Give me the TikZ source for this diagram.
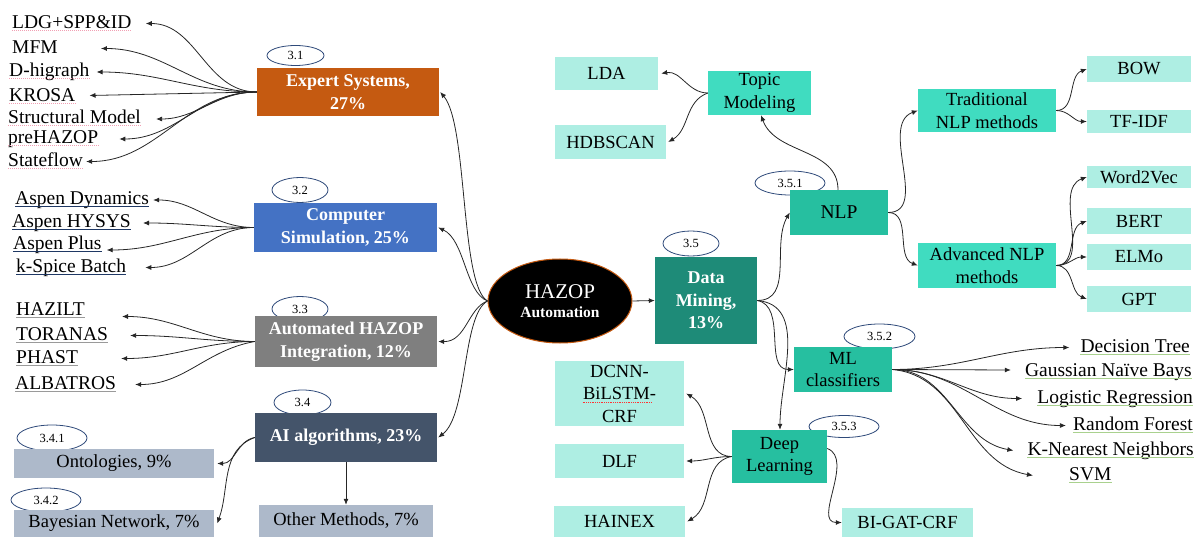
\documentclass[tikz,border=0pt]{standalone}
\usepackage{fontspec}
\setmainfont{Liberation Serif}
\newfontfamily\figfont{Liberation Serif}
\usepackage{tikz}
\usetikzlibrary{arrows.meta,shapes}
\usetikzlibrary{positioning}

\definecolor{catOrange}{HTML}{C55A11}
\definecolor{catBlue}{HTML}{4472C4}
\definecolor{catGray}{HTML}{7F7F7F}
\definecolor{catSlate}{HTML}{44546A}
\definecolor{subSlate}{HTML}{ADB9CA}
\definecolor{dmTeal}{HTML}{1E8B78}
\definecolor{midTeal}{HTML}{26BFA0}
\definecolor{brightTeal}{HTML}{40DCC0}
\definecolor{paleTeal}{HTML}{AEEEE3}
\definecolor{tagNavy}{HTML}{2F4A7A}
\definecolor{spellPink}{HTML}{F2A0B4}
\definecolor{linkNavy}{HTML}{1F3864}
\definecolor{lineGray}{HTML}{9A9A9A}
\definecolor{lineGreen}{HTML}{A9D18E}

\tikzset{
  conn/.style={draw=black!85, line width=0.8pt, -{Latex[length=6pt,width=5pt]}},
  catbox/.style={inner sep=0pt, align=center, text=white, font=\figfont\bfseries\fontsize{18}{22.5}\selectfont},
  subbox/.style={inner sep=0pt, align=center, text=black, font=\figfont\fontsize{18.5}{22.5}\selectfont},
  tag/.style={ellipse, draw=tagNavy, fill=white, line width=0.8pt, inner sep=0pt, font=\figfont\fontsize{12.5}{14}\selectfont},
  item/.style={inner sep=0pt, text height=13.5pt, text depth=4pt, font=\figfont\fontsize{19.5}{22}\selectfont},
  ulpink/.style={draw=spellPink, line width=1pt, densely dotted},
  ulnavy/.style={draw=linkNavy, line width=1pt},
  ulgray/.style={draw=lineGray, line width=1pt},
  ulgreen/.style={draw=lineGreen, line width=1pt}
}

\begin{document}
\begin{tikzpicture}[x=1pt,y=-1pt]
\useasboundingbox (0,0) rectangle (1199,537);

% section tags
\node[tag, minimum width=57pt, minimum height=20pt] (t31) at (295.5,55.5) {3.1};
\node[tag, minimum width=56pt, minimum height=25pt] (t32) at (300,190) {3.2};
\node[tag, minimum width=56pt, minimum height=25pt] (t33) at (300,309) {3.3};
\node[tag, minimum width=57pt, minimum height=25pt] (t34) at (302.5,402.5) {3.4};
\node[tag, minimum width=70pt, minimum height=26pt] (t341) at (52,438) {3.4.1};
\node[tag, minimum width=70pt, minimum height=24pt] (t342) at (46,500) {3.4.2};
\node[tag, minimum width=56pt, minimum height=25pt] (t35) at (691,243.5) {3.5};
\node[tag, minimum width=70pt, minimum height=24pt] (t351) at (790,183) {3.5.1};
\node[tag, minimum width=71pt, minimum height=25pt] (t352) at (879.5,336.5) {3.5.2};
\node[tag, minimum width=70pt, minimum height=22pt] (t353) at (844,426.5) {3.5.3};

% centre
\node[ellipse, fill=black, draw=catOrange, line width=1pt, minimum width=144pt, minimum height=84pt,
      inner sep=0pt, text=white, align=center, font=\figfont\fontsize{21}{19}\selectfont] (hazop) at (560,301)
  {HAZOP\\{\bfseries\fontsize{15.5}{19}\selectfont Automation}};

% left branches
\node[catbox, fill=catOrange, minimum width=182pt, minimum height=48pt] (expert) at (348,92) {Expert Systems,\\27\%};
\node[catbox, fill=catBlue, minimum width=183pt, minimum height=49pt] (compsim) at (345.5,227.5) {Computer\\Simulation, 25\%};
\node[catbox, fill=catGray, minimum width=182pt, minimum height=51pt] (autom) at (346,341.5) {Automated HAZOP\\Integration, 12\%};
\node[catbox, fill=catSlate, minimum width=182pt, minimum height=49pt] (aialg) at (346,437.5) {AI algorithms, 23\%};
\node[subbox, fill=subSlate, minimum width=200pt, minimum height=29pt] (onto) at (114,463.5) {Ontologies, 9\%};
\node[subbox, fill=subSlate, minimum width=200pt, minimum height=27pt] (bayes) at (114,523.5) {Bayesian Network, 7\%};
\node[subbox, fill=subSlate, minimum width=174pt, minimum height=32pt] (other) at (346,521) {Other Methods, 7\%};

\node[item, anchor=west] (ldg) at (12,23.5) {LDG+SPP\&ID};
\node[item, anchor=west] (mfm) at (12,48.5) {MFM};
\node[item, anchor=west] (dhi) at (9,72) {D-higraph};
\node[item, anchor=west] (krosa) at (9,96.5) {KROSA};
\node[item, anchor=west] (struct) at (8,119) {Structural Model};
\node[item, anchor=west] (prehaz) at (8,139) {preHAZOP};
\node[item, anchor=west] (statef) at (8,161.5) {Stateflow};

\node[item, anchor=west] (aspdyn) at (15,200) {Aspen Dynamics};
\node[item, anchor=west] (asphys) at (12,223) {Aspen HYSYS};
\node[item, anchor=west] (aspplus) at (13,245) {Aspen Plus};
\node[item, anchor=west] (kspice) at (16,267.5) {k-Spice Batch};

\node[item, anchor=west] (hazilt) at (16,310.5) {HAZILT};
\node[item, anchor=west] (toranas) at (16,335.5) {TORANAS};
\node[item, anchor=west] (phast) at (16,358.5) {PHAST};
\node[item, anchor=west] (albatros) at (15,384.5) {ALBATROS};

% data mining side
\node[catbox, fill=dmTeal, minimum width=102pt, minimum height=87pt] (dmin) at (706,300.5) {Data\\Mining,\\13\%};
\node[subbox, fill=midTeal, minimum width=98pt, minimum height=45pt, font=\figfont\fontsize{19.5}{22.5}\selectfont] (nlp) at (839,212.5) {NLP};
\node[subbox, fill=midTeal, minimum width=98pt, minimum height=45pt] (mlc) at (843,369.5) {ML\\classifiers};
\node[subbox, fill=midTeal, minimum width=95pt, minimum height=53pt] (dlrn) at (779.5,456.5) {Deep\\Learning};

\node[subbox, fill=brightTeal, minimum width=103pt, minimum height=44pt] (topic) at (759.5,93) {Topic\\Modeling};
\node[subbox, fill=brightTeal, minimum width=138pt, minimum height=43pt] (trad) at (987,110.5) {Traditional\\NLP methods};
\node[subbox, fill=brightTeal, minimum width=138pt, minimum height=45pt] (adv) at (987,265.5) {Advanced NLP\\methods};

\node[subbox, fill=paleTeal, minimum width=103pt, minimum height=33pt] (lda) at (606.5,73.5) {LDA};
\node[subbox, fill=paleTeal, minimum width=111pt, minimum height=34pt] (hdb) at (610.5,142) {HDBSCAN};
\node[subbox, fill=paleTeal, minimum width=104pt, minimum height=26pt] (bow) at (1139,69) {BOW};
\node[subbox, fill=paleTeal, minimum width=104pt, minimum height=23pt] (tfidf) at (1139,121.5) {TF-IDF};
\node[subbox, fill=paleTeal, minimum width=104pt, minimum height=22pt] (wtv) at (1139,177) {Word2Vec};
\node[subbox, fill=paleTeal, minimum width=104pt, minimum height=26pt] (bert) at (1139,221) {BERT};
\node[subbox, fill=paleTeal, minimum width=104pt, minimum height=26pt] (elmo) at (1139,257) {ELMo};
\node[subbox, fill=paleTeal, minimum width=104pt, minimum height=26pt] (gpt) at (1139,299) {GPT};
\node[subbox, fill=paleTeal, minimum width=129pt, minimum height=65pt] (dcnn) at (619.5,393.5) {DCNN-\\BiLSTM-\\CRF};
\node[subbox, fill=paleTeal, minimum width=129pt, minimum height=34pt] (dlf) at (619.5,461) {DLF};
\node[subbox, fill=paleTeal, minimum width=131pt, minimum height=31pt] (hainex) at (619.5,521.5) {HAINEX};
\node[subbox, fill=paleTeal, minimum width=131pt, minimum height=29pt] (bigat) at (907.5,522.5) {BI-GAT-CRF};

\node[item, anchor=east] (dtree) at (1190,347.5) {Decision Tree};
\node[item, anchor=east] (gnb) at (1192,371.5) {Gaussian Naïve Bays};
\node[item, anchor=east] (logreg) at (1193,398.5) {Logistic Regression};
\node[item, anchor=east] (rforest) at (1193,425.5) {Random Forest};
\node[item, anchor=east] (knn) at (1194,450.5) {K-Nearest Neighbors};
\node[item, anchor=west] (svm) at (1069,475.5) {SVM};

% underlines
\foreach \n in {ldg,dhi,krosa,struct,prehaz,statef}
  \draw[ulpink] ([yshift=-2pt]\n.base west) -- ([yshift=-2pt]\n.base east);
\foreach \n in {aspdyn,asphys,aspplus,kspice}
  \draw[ulnavy] ([yshift=-2pt]\n.base west) -- ([yshift=-2pt]\n.base east);
\foreach \n in {hazilt,toranas,phast,albatros}
  \draw[ulgray] ([yshift=-2pt]\n.base west) -- ([yshift=-2pt]\n.base east);
\foreach \n in {dtree,gnb,logreg,rforest,knn,svm}
  \draw[ulgreen] ([yshift=-2pt]\n.base west) -- ([yshift=-2pt]\n.base east);
\draw[draw=red!80, line width=0.8pt, densely dotted] ([xshift=-37pt,yshift=-8.5pt]dcnn.center) -- ([xshift=33pt,yshift=-8.5pt]dcnn.center);

% hazop to categories
\draw[conn] (hazop.west) .. controls (460,285) and (468,125) .. ([xshift=1pt]expert.east);
\draw[conn] (hazop.west) .. controls (465,292) and (465,240) .. ([xshift=1pt]compsim.east);
\draw[conn] (hazop.west) .. controls (468,308) and (466,342) .. ([xshift=1pt]autom.east);
\draw[conn] (hazop.west) .. controls (462,315) and (468,415) .. ([xshift=1pt]aialg.east);
\draw[conn] (hazop.east) -- (dmin.west);

% expert systems
\draw[conn] (expert.west) to[out=180,in=0] ([xshift=14pt]ldg.east);
\draw[conn] (expert.west) to[out=180,in=0] ([xshift=43pt]mfm.east);
\draw[conn] (expert.west) to[out=180,in=0] ([xshift=7pt]dhi.east);
\draw[conn] (expert.west) -- ([xshift=14pt,yshift=1pt]krosa.east);
\draw[conn] (expert.west) to[out=180,in=0] ([xshift=15pt]struct.east);
\draw[conn] (expert.west) to[out=180,in=0] ([xshift=21pt]prehaz.east);
\draw[conn] (expert.west) to[out=180,in=0] ([xshift=3pt]statef.east);

% simulation
\draw[conn] (compsim.west) to[out=180,in=0] ([xshift=4pt]aspdyn.east);
\draw[conn] (compsim.west) to[out=180,in=0] ([xshift=12pt]asphys.east);
\draw[conn] (compsim.west) to[out=180,in=0] ([xshift=5pt,yshift=-5pt]aspplus.east);
\draw[conn] (compsim.west) to[out=180,in=0] ([xshift=19pt]kspice.east);

% integration
\draw[conn] (autom.west) to[out=180,in=0] ([xshift=37pt,yshift=-6pt]hazilt.east);
\draw[conn] (autom.west) to[out=180,in=0] ([xshift=22pt]toranas.east);
\draw[conn] (autom.west) to[out=180,in=0] ([xshift=43pt]phast.east);
\draw[conn] (autom.west) to[out=190,in=0] ([xshift=19pt]albatros.east);

% AI algorithms
\draw[conn] (aialg.west) to[out=190,in=0] ([xshift=3pt]onto.east);
\draw[conn] (aialg.west) to[out=200,in=70] ([xshift=3pt]bayes.east);
\draw[conn] (aialg.south) -- (other.north);

% data mining
\draw[conn] (dmin.east) to[out=0,in=240] (nlp.west);
\draw[conn] (dmin.east) to[out=-10,in=180] (mlc.west);
\draw[conn] (dmin.east) to[out=-5,in=90] ([xshift=0.5pt]dlrn.north);
\draw[conn] ([xshift=-1pt]nlp.north) to[out=90,in=-70] ([xshift=1.5pt]topic.south);
\draw[conn] (topic.west) to[out=180,in=10] ([xshift=3pt]lda.east);
\draw[conn] (topic.west) to[out=200,in=30] ([xshift=2pt]hdb.east);
\draw[conn] (nlp.east) to[out=0,in=200] (trad.west);
\draw[conn] (nlp.east) to[out=0,in=160] (adv.west);
\draw[conn] (trad.east) to[out=0,in=200] (bow.west);
\draw[conn] (trad.east) to[out=0,in=180] (tfidf.west);
\draw[conn] (adv.east) to[out=0,in=200] (wtv.west);
\draw[conn] (adv.east) to[out=0,in=200] (bert.west);
\draw[conn] (adv.east) to[out=0,in=180] (elmo.west);
\draw[conn] (adv.east) to[out=0,in=160] (gpt.west);

% ML classifiers
\draw[conn] (mlc.east) to[out=0,in=180] ([xshift=-11pt]dtree.west);
\draw[conn] (mlc.east) -- ([xshift=-14pt,yshift=1.5pt]gnb.west);
\draw[conn] (mlc.east) to[out=0,in=180] ([xshift=-15pt]logreg.west);
\draw[conn] (mlc.east) to[out=0,in=180] ([xshift=-7pt]rforest.west);
\draw[conn] (mlc.east) to[out=0,in=170] ([xshift=-14pt]knn.west);
\draw[conn] (mlc.east) to[out=-5,in=170] ([xshift=-36pt]svm.west);

% deep learning
\draw[conn] (dlrn.west) to[out=180,in=-30] ([xshift=2pt]dcnn.east);
\draw[conn] (dlrn.west) to[out=180,in=0] ([xshift=2pt]dlf.east);
\draw[conn] (dlrn.west) to[out=190,in=30] ([xshift=2pt]hainex.east);
\draw[conn] ([yshift=8pt]dlrn.east) to[out=-20,in=180] (bigat.west);
\end{tikzpicture}
\end{document}
